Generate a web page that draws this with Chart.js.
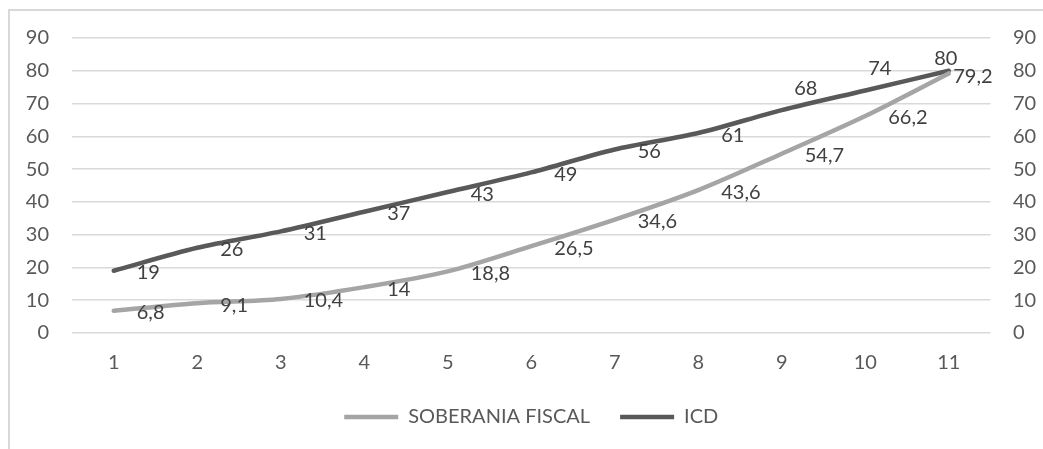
<!DOCTYPE html>
<html>
<head>
<meta charset="utf-8">
<script src="https://cdn.jsdelivr.net/npm/chart.js@4/dist/chart.umd.min.js"></script>
<style>
    body { margin: 0; background: #fff; }
    #frame { position: absolute; left: 8px; top: 9px; width: 1100px; height: 500px; border: 2px solid #d9d9d9; box-sizing: border-box; }
    #chart { position: absolute; left: 0; top: 0; }
</style>
</head>
<body>
<div id="frame"></div>
<canvas id="chart" width="1043" height="449"></canvas>
<script>
const categories = ['1', '2', '3', '4', '5', '6', '7', '8', '9', '10', '11'];
const soberania = [6.8, 9.1, 10.4, 14, 18.8, 26.5, 34.6, 43.6, 54.7, 66.2, 79.2];
const icd = [19, 26, 31, 37, 43, 49, 56, 61, 68, 74, 80];
const yMin = 0, yMax = 90, yStep = 10;

const textColor = '#595959';
const font = { family: 'Lato', size: 20 };

// label nudges where the labels were moved by hand in the original
const labelNudge = {
    '0-10': [4.5, 3],
    '1-8': [12.5, -22],
    '1-9': [3, -22],
    '1-10': [-14.5, -12],
};

const valueLabels = {
    id: 'valueLabels',
    afterDatasetsDraw(chart) {
        const ctx = chart.ctx;
        ctx.save();
        ctx.font = '20px Lato';
        ctx.fillStyle = '#404040';
        ctx.textAlign = 'left';
        ctx.textBaseline = 'middle';
        chart.data.datasets.forEach((ds, di) => {
            chart.getDatasetMeta(di).data.forEach((pt, i) => {
                const n = labelNudge[di + '-' + i] || [23, 2];
                ctx.fillText(String(ds.data[i]).replace('.', ','), pt.x + n[0], pt.y + n[1]);
            });
        });
        ctx.restore();
    }
};

new Chart(document.getElementById('chart').getContext('2d'), {
    type: 'line',
    data: {
        labels: categories,
        datasets: [{
            label: 'SOBERANIA FISCAL',
            data: soberania,
            borderColor: '#a5a5a5',
            backgroundColor: '#a5a5a5',
            borderWidth: 4.5,
            pointRadius: 0,
            tension: 0.3,
            borderCapStyle: 'round',
        }, {
            label: 'ICD',
            data: icd,
            borderColor: '#595959',
            backgroundColor: '#595959',
            borderWidth: 4.5,
            pointRadius: 0,
            tension: 0.3,
            borderCapStyle: 'round',
        }],
    },
    options: {
        responsive: false,
        animation: false,
        layout: { padding: { top: 38, bottom: 12, left: 0, right: 0 } },
        plugins: {
            tooltip: { enabled: false },
            legend: {
                position: 'bottom',
                fullSize: false,
                labels: {
                    usePointStyle: true,
                    pointStyle: 'line',
                    pointStyleWidth: 54,
                    padding: 30,
                    color: textColor,
                    font: font,
                },
            },
        },
        scales: {
            x: {
                offset: true,
                grid: { display: false, drawTicks: false },
                border: { display: false },
                ticks: { color: textColor, font: font, padding: 18 },
                afterFit(s) { s.height = 44; },
            },
            y: {
                position: 'left',
                min: yMin, max: yMax,
                grid: { color: '#d9d9d9', lineWidth: 1.5, drawTicks: false },
                border: { display: false },
                ticks: { stepSize: yStep, color: textColor, font: font, padding: 23 },
                afterFit(s) { s.width = 72; },
            },
            y2: {
                position: 'right',
                min: yMin, max: yMax,
                grid: { display: false, drawTicks: false },
                border: { display: false },
                ticks: { stepSize: yStep, color: textColor, font: font, padding: 22.5 },
                afterFit(s) { s.width = 52.5; },
            },
        },
    },
    plugins: [valueLabels],
});
</script>
</body>
</html>
